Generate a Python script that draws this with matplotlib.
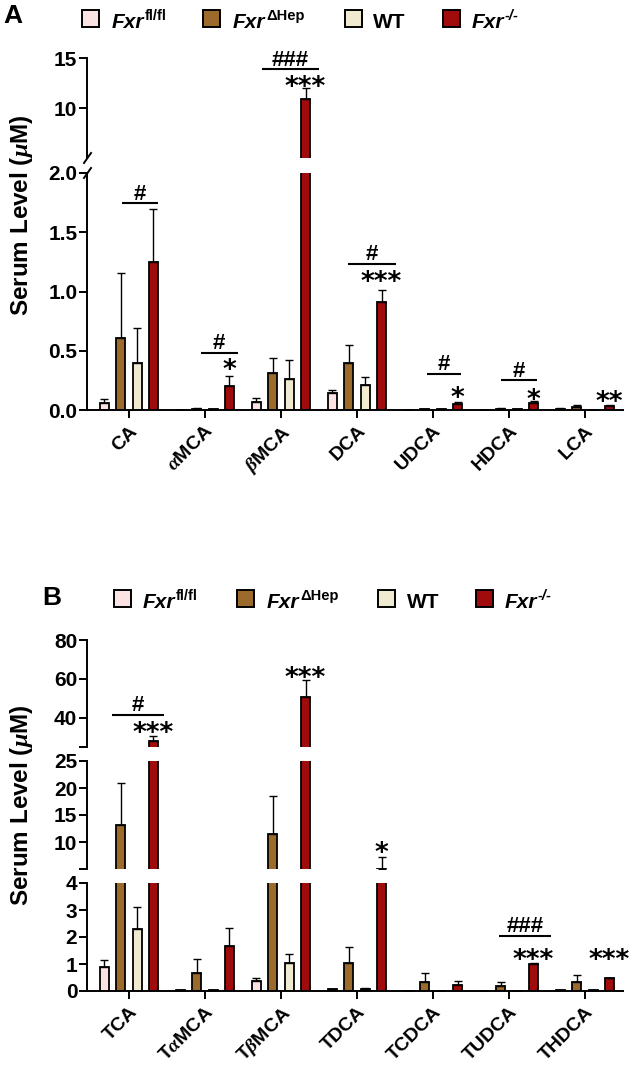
import matplotlib
matplotlib.use("Agg")
import matplotlib.pyplot as plt
from matplotlib.patches import Rectangle
from matplotlib.lines import Line2D
import numpy as np

plt.rcParams['font.family'] = ['Liberation Sans', 'DejaVu Sans']
plt.rcParams['font.weight'] = 'bold'
plt.rcParams['mathtext.fontset'] = 'custom'
plt.rcParams['mathtext.rm'] = 'Liberation Sans:bold'
plt.rcParams['mathtext.bf'] = 'Liberation Sans:bold'
plt.rcParams['mathtext.it'] = 'Liberation Serif:italic'
plt.rcParams['axes.linewidth'] = 1.4

W, H = 633, 1069

colors = ['#fce3e3', '#9c6a2b', '#efead0', '#a00b0b']
# legend text: main part, superscript part
legend_main = ['Fxr', 'Fxr', 'WT', 'Fxr']
legend_sup = ['fl/fl', '\u0394Hep', '', '-/-']

# ---- panel A : unconjugated bile acids (uM) ----
a_names = ['CA', r'$\alpha$MCA', r'$\beta$MCA', 'DCA', 'UDCA', 'HDCA', 'LCA']
a_flfl = [0.06, 0.004, 0.07, 0.145, 0.004, 0.004, 0.01]
a_flfl_err = [0.03, 0.0, 0.03, 0.025, 0.0, 0.0, 0.004]
a_dhep = [0.61, 0.01, 0.31, 0.40, 0.006, 0.01, 0.025]
a_dhep_err = [0.55, 0.005, 0.13, 0.15, 0.0, 0.008, 0.02]
a_wt = [0.40, 0.005, 0.26, 0.21, 0.01, 0.005, 0.003]
a_wt_err = [0.29, 0.0, 0.16, 0.065, 0.0, 0.0, 0.0]
a_ko = [1.25, 0.20, 10.9, 0.91, 0.047, 0.056, 0.035]
a_ko_err = [0.45, 0.09, 1.1, 0.10, 0.017, 0.02, 0.01]

a_line_grp = [0, 1, 2, 3, 4, 5]
a_line_y = [1.745, 0.485, 13.9, 1.233, 0.308, 0.252]
a_line_x0 = [-0.09, -0.05, -0.25, -0.12, -0.08, -0.10]
a_line_x1 = [0.39, 0.43, 0.50, 0.51, 0.37, 0.37]
a_line_txt = ['#', '#', '###', '#', '#', '#']
a_line_seg = [1, 1, 0, 1, 1, 1]
a_star_grp = [1, 2, 3, 4, 5, 6]
a_star_y = [0.392, 12.8, 1.134, 0.154, 0.143, 0.126]
a_star_txt = ['*', '***', '***', '*', '*', '**']
a_star_seg = [1, 0, 1, 1, 1, 1]

# ---- panel B : taurine conjugated bile acids (uM) ----
b_names = ['TCA', r'T$\alpha$MCA', r'T$\beta$MCA', 'TDCA', 'TCDCA', 'TUDCA', 'THDCA']
b_flfl = [0.9, 0.03, 0.36, 0.06, 0.0, 0.0, 0.04]
b_flfl_err = [0.25, 0.0, 0.13, 0.03, 0.0, 0.0, 0.0]
b_dhep = [13.1, 0.65, 11.5, 1.02, 0.35, 0.18, 0.35]
b_dhep_err = [7.9, 0.55, 7.1, 0.62, 0.30, 0.14, 0.25]
b_wt = [2.28, 0.03, 1.05, 0.07, 0.0, 0.01, 0.03]
b_wt_err = [0.83, 0.0, 0.33, 0.05, 0.0, 0.0, 0.0]
b_ko = [28.2, 1.67, 50.6, 5.05, 0.22, 0.99, 0.47]
b_ko_err = [2.6, 0.65, 8.9, 2.1, 0.15, 0.06, 0.03]

b_line_grp = [0, 5]
b_line_y = [41.5, 2.04]
b_line_x0 = [-0.22, -0.13]
b_line_x1 = [0.46, 0.55]
b_line_txt = ['#', '###']
b_line_seg = [0, 2]
b_star_grp = [0, 2, 3, 5, 6]
b_star_y = [35.4, 63.6, 9.1, 1.40, 1.40]
b_star_txt = ['***', '***', '*', '***', '***']
b_star_seg = [0, 0, 1, 2, 2]

offsets = [-0.324, -0.108, 0.108, 0.324]
bw = 0.118
fs_tick = 15
fs_xtick = 14
fs_star = 19
fs_hash = 16

fig = plt.figure(figsize=(W / 100, H / 100), dpi=100)
renderer = fig.canvas.get_renderer()


def add_ax(left, right, top, bottom):
    return fig.add_axes([left / W, 1 - bottom / H, (right - left) / W, (bottom - top) / H])


def draw_panel(boxes, lims, ticks, ticklabels, names, means, errs):
    x = np.arange(len(names))
    axes = []
    for i, box in enumerate(boxes):
        ax = add_ax(*box)
        for g in range(4):
            xs = x + offsets[g]
            ax.bar(xs, means[g], width=bw, color=colors[g], edgecolor='black',
                   linewidth=1.3, zorder=2)
            ax.errorbar(xs, means[g], yerr=[np.zeros(len(x)), errs[g]], fmt='none',
                        ecolor='black', elinewidth=1.0, capsize=2.6, capthick=1.0, zorder=3)
        ax.set_xlim(-0.55, 6.5)
        ax.set_ylim(*lims[i])
        ax.set_yticks(ticks[i])
        ax.set_yticklabels(ticklabels[i], fontsize=fs_tick)
        ax.tick_params(axis='y', direction='out', length=6, width=1.4, pad=1)
        ax.spines['top'].set_visible(False)
        ax.spines['right'].set_visible(False)
        ax.patch.set_alpha(0)
        if i < len(boxes) - 1:
            ax.spines['bottom'].set_visible(False)
            ax.set_xticks([])
        else:
            ax.set_xticks(x)
            ax.set_xticklabels(names, rotation=45, ha='right', va='top',
                               rotation_mode='anchor', fontsize=fs_xtick)
            ax.tick_params(axis='x', direction='out', length=6, width=1.4, pad=3)
        axes.append(ax)
    return axes


def annotate(axes, grp, ys, x0s, x1s, txts, segs, star_grp, star_y, star_txt, star_seg):
    for g, y, a, b, t, s in zip(grp, ys, x0s, x1s, txts, segs):
        ax = axes[s]
        ax.plot([g + a, g + b], [y, y], color='black', lw=1.5, clip_on=False,
                solid_capstyle='butt', zorder=4)
        ax.annotate(t, (g + (a + b) / 2, y), xytext=(0, 2.5), textcoords='offset points',
                    ha='center', va='baseline', fontsize=fs_hash, annotation_clip=False)
    for g, y, t, s in zip(star_grp, star_y, star_txt, star_seg):
        ax = axes[s]
        ax.annotate(t, (g + offsets[3], y), xytext=(0, -0.55 * fs_star),
                    textcoords='offset points', ha='center', va='baseline',
                    fontsize=fs_star, family='DejaVu Sans', annotation_clip=False)


def legend_row(box_x, text_x, box_top, baseline):
    for bx, tx, c, main, sup in zip(box_x, text_x, colors, legend_main, legend_sup):
        fig.add_artist(Rectangle((bx / W, 1 - (box_top + 17) / H), 17 / W, 17 / H,
                                 facecolor=c, edgecolor='black', linewidth=1.4,
                                 transform=fig.transFigure))
        style = 'italic' if sup else 'normal'
        t = fig.text(tx / W, 1 - baseline / H, main, fontsize=15, style=style,
                     ha='left', va='baseline')
        if sup:
            bb = t.get_window_extent(renderer=renderer)
            fig.text(bb.x1 / W + 0.5 / W, 1 - (baseline - 8) / H, sup, fontsize=10.5,
                     style='italic' if sup == '-/-' else 'normal',
                     ha='left', va='baseline')


# ---- panel A ----
axA = draw_panel([(87, 623, 58, 158), (87, 623, 173, 410)],
                 [(5, 15), (0, 2)],
                 [[10, 15], [0, 0.5, 1.0, 1.5, 2.0]],
                 [['10', '15'], ['0.0', '0.5', '1.0', '1.5', '2.0']],
                 a_names,
                 [a_flfl, a_dhep, a_wt, a_ko],
                 [a_flfl_err, a_dhep_err, a_wt_err, a_ko_err])
annotate(axA, a_line_grp, a_line_y, a_line_x0, a_line_x1, a_line_txt, a_line_seg,
         a_star_grp, a_star_y, a_star_txt, a_star_seg)
# break marks on the y axis
for yb in (158, 173):
    fig.add_artist(Line2D([84 / W, 91 / W], [1 - (yb + 5) / H, 1 - (yb - 5) / H],
                          color='black', lw=1.4, transform=fig.transFigure))
legend_row([82, 203, 345, 443], [112, 233, 373, 472], 10, 28)
fig.text(3 / W, 1 - 23 / H, 'A', fontsize=19, ha='left', va='baseline')
fig.text(22 / W, 1 - 215 / H, r'Serum Level ($\mu$M)', rotation=90, fontsize=17.5,
         ha='center', va='center')

# ---- panel B ----
axB = draw_panel([(87, 623, 640, 747), (87, 623, 761, 869), (87, 623, 883, 991)],
                 [(25, 80), (5, 25), (0, 4)],
                 [[25, 40, 60, 80], [5, 10, 15, 20, 25], [0, 1, 2, 3, 4]],
                 [['', '40', '60', '80'], ['', '10', '15', '20', '25'],
                  ['0', '1', '2', '3', '4']],
                 b_names,
                 [b_flfl, b_dhep, b_wt, b_ko],
                 [b_flfl_err, b_dhep_err, b_wt_err, b_ko_err])
annotate(axB, b_line_grp, b_line_y, b_line_x0, b_line_x1, b_line_txt, b_line_seg,
         b_star_grp, b_star_y, b_star_txt, b_star_seg)
legend_row([114, 237, 378, 476], [143, 267, 407, 505], 590, 608)
fig.text(42 / W, 1 - 605 / H, 'B', fontsize=19, ha='left', va='baseline')
fig.text(22 / W, 1 - 805 / H, r'Serum Level ($\mu$M)', rotation=90, fontsize=17.5,
         ha='center', va='center')

fig.savefig('out.png', dpi=100)
